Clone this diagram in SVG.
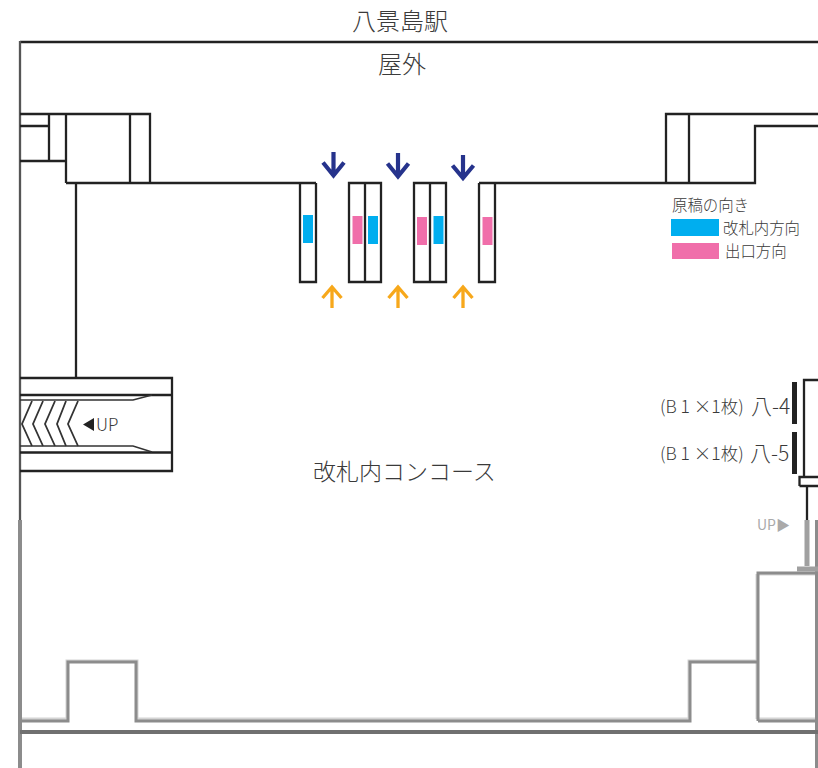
<svg xmlns="http://www.w3.org/2000/svg" width="818" height="768" viewBox="0 0 818 768">
<style>
text{font-family:"Noto Sans CJK JP","Noto Sans",sans-serif;fill:#3a3a3a}
.w{fill:none;stroke:#222;stroke-width:2.300}
.g{fill:none;stroke:#8c8c8c;stroke-width:3}
.l{fill:none;stroke:#d4d4d4;stroke-width:3}
.t{font-size:24px;font-weight:300}
.s{font-size:15.400px;font-weight:300}
.q{font-size:17.500px;font-weight:300}
.m{font-size:21px;font-weight:300}
.d{fill:none;stroke:#26338c;stroke-width:4.200}
.o{fill:none;stroke:#f7a81b;stroke-width:3.300}
.b{fill:#00aeef}.p{fill:#f06eaa}
</style>
<rect width="818" height="768" fill="#fff"/>
<g id="walls">
<path class="w" d="M20 42H818"/>
<path d="M20 41V520" fill="none" stroke="#555" stroke-width="2.300"/>
<path class="w" d="M20 114H150V183M66 183V114M49 114V161M20 126H48M20 161H66M130 114V183M66 183H316M76 183V378"/>
<path class="w" d="M479 183H755V126H818M666 183V114H818M689 114V183"/>
<path class="w" d="M804 476V380H818M799.500 486V477H818M799.500 486H818M807 486V520"/>
</g>
<g id="gates">
<path class="w" d="M300 183V282H316V183"/>
<path class="w" d="M349 183H381V282H349ZM365 183V282"/>
<path class="w" d="M414 183H446V282H414ZM430 183V282"/>
<path class="w" d="M479 183V282H495V183"/>
<rect class="b" x="303" y="215" width="10" height="28"/>
<rect class="p" x="352.500" y="216" width="10" height="28"/>
<rect class="b" x="368" y="216" width="10" height="28"/>
<rect class="p" x="417" y="217" width="10" height="28"/>
<rect class="b" x="433.500" y="216" width="10" height="28"/>
<rect class="p" x="482.500" y="217" width="10" height="28"/>
</g>
<g id="arrows-in">
<path class="d" d="M333.500 152V175M323 162.500L333.500 175.500L344 162.500"/>
<path class="d" d="M398 153V176M387.500 163.500L398 176.500L408.500 163.500"/>
<path class="d" d="M463 155V178M452.500 165.500L463 178L473.500 165.500"/>
</g>
<g id="arrows-out">
<path class="o" d="M332 308V287M322.500 298L332 287L341.500 298"/>
<path class="o" d="M398 308V287M388.500 298L398 287L407.500 298"/>
<path class="o" d="M463 308V287M453.500 298L463 287L472.500 298"/>
</g>
<g id="legend">
<text class="s" x="672" y="211">原稿の向き</text>
<rect class="b" x="671" y="219" width="48" height="17"/>
<text class="s" x="723" y="234">改札内方向</text>
<rect class="p" x="672" y="243" width="47" height="16"/>
<text class="s" x="725" y="257">出口方向</text>
</g>
<g id="escalator">
<path class="w" d="M20 378H172V471H20M20 395H172M20 452.500H172"/>
<path d="M20 400H133L152 395M20 446H133L152 452" fill="none" stroke="#333" stroke-width="1.500"/>
<path d="M32 401L22 424L32 446M43 401L33 424L43 446M55 401L45 424L55 446M66 401L57 424L66 446M78 401L68 424L78 446" fill="none" stroke="#333" stroke-width="1.800"/>
<path d="M83 424.500L94 418V431Z" fill="#222"/>
<text x="96" y="431" font-size="17" font-weight="300">UP</text>
</g>
<g id="posters">
<rect x="792" y="382" width="5" height="42" fill="#222"/>
<rect x="792" y="432" width="5" height="42" fill="#222"/>
<text class="q" x="660" y="413">(B 1 ×1枚)</text>
<text class="m" x="751" y="414">八-4</text>
<text class="q" x="660" y="460">(B 1 ×1枚)</text>
<text class="m" x="750" y="461">八-5</text>
</g>
<g id="lower-walls">
<path class="l" d="M20 719H67V661H137V719H689V661H757M757 719V574M757 719H818M758 574H818"/>
<path class="g" d="M20 721H68V662H136V721H690V662H758M758 721V573H818M758 721H818"/>
<path d="M20 520V768M817 520V768" fill="none" stroke="#8c8c8c" stroke-width="4"/>
<path d="M20 732H818" fill="none" stroke="#707070" stroke-width="4"/>
<path d="M807 520V566M797 569H818" fill="none" stroke="#a0a0a0" stroke-width="5"/>
<text x="757" y="530" font-size="14" style="fill:#aaa">UP▶</text>
</g>
<g id="titles">
<text class="t" x="352" y="30">八景島駅</text>
<text class="t" x="378" y="73">屋外</text>
<text class="t" x="313" y="480" style="font-size:23px">改札内コンコース</text>
</g>
</svg>
